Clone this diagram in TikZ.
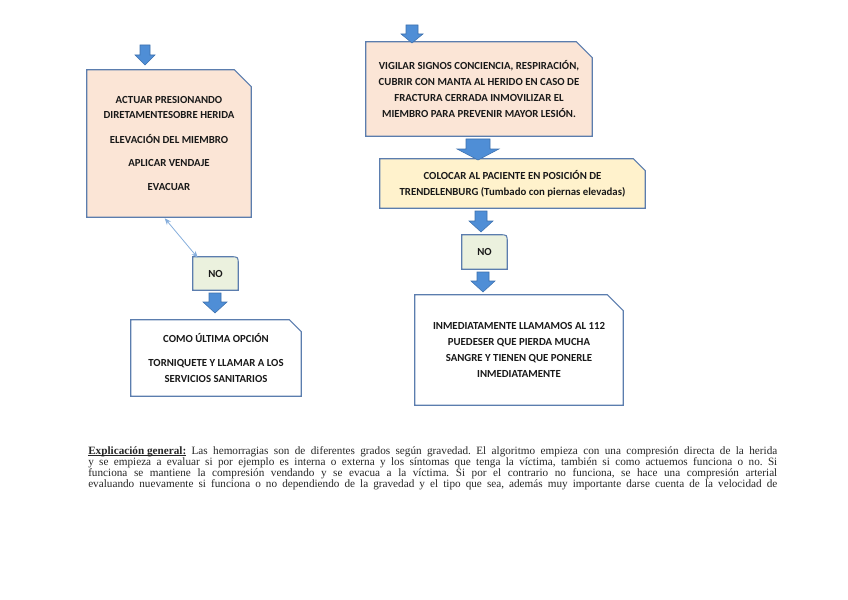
\documentclass[tikz,border=0pt]{standalone}
\usepackage{fontspec}
\setmainfont{Liberation Serif}
\newfontfamily\boxfont{Carlito}
\usetikzlibrary{backgrounds,calc,arrows.meta}
\definecolor{peach}{HTML}{FBE5D6}
\definecolor{paleyellow}{HTML}{FFF2CC}
\definecolor{palegreen}{HTML}{EBF1DE}
\definecolor{boxedge}{HTML}{5B7DAE}
\definecolor{arrfill}{HTML}{4F8ED6}
\definecolor{arredge}{HTML}{3D70AD}
\definecolor{thinblue}{HTML}{86AEDC}
\newcommand\snipbox[3]{%
  \draw[boxline,fill=#2] (#1.south west) -- (#1.north west) -- ($(#1.north east)+(-#3,0)$) -- ($(#1.north east)+(0,#3)$) -- (#1.south east) -- cycle;}
\newcommand\roundbox[2]{%
  \draw[boxline,fill=#2] (#1.south west) -- (#1.north west) -- ($(#1.north east)+(-8,0)$) .. controls (#1.north east) .. ($(#1.north east)+(0,8)$) -- (#1.south east) -- cycle;}
\newcommand\blockarr[6]{%
  \filldraw[arrowstyle] (#1-#4,#2) -- (#1+#4,#2) -- (#1+#4,#6) -- (#1+#5,#6) -- (#1,#3) -- (#1-#5,#6) -- (#1-#4,#6) -- cycle;}
\newcommand\myul[1]{\setbox0\hbox{#1}\rlap{\rule[-0.9pt]{\wd0}{0.5pt}}\box0\relax}
\tikzset{
  boxline/.style={draw=boxedge, line width=0.8pt},
  boxtext/.style={inner sep=0pt, align=center, font=\boxfont\bfseries\fontsize{8.1}{12}\selectfont, text=black!90},
  arrowstyle/.style={fill=arrfill, draw=arredge, line width=0.4pt},
}
\begin{document}
\begin{tikzpicture}[x=0.75pt,y=-0.75pt]
\useasboundingbox (0,0) rectangle (848,599);

% nodes (boxes)
\node[boxtext, minimum width=123pt, minimum height=110.25pt] (b1) at (169,143.5)
  {ACTUAR PRESIONANDO\\[-0.6pt] DIRETAMENTESOBRE HERIDA\\[6.5pt] ELEVACIÓN DEL MIEMBRO\\[5pt] APLICAR VENDAJE\\[6pt] EVACUAR};
\node[boxtext, minimum width=33.75pt, minimum height=24.75pt] (no1) at (215.5,273.5) {NO};
\node[boxtext, minimum width=127.5pt, minimum height=57pt] (b2) at (216,358)
  {COMO ÚLTIMA OPCIÓN\\[6pt] TORNIQUETE Y LLAMAR A LOS\\ SERVICIOS SANITARIOS};
\node[boxtext, minimum width=169.5pt, minimum height=70.5pt] (b3) at (479,89)
  {VIGILAR SIGNOS CONCIENCIA, RESPIRACIÓN,\\ CUBRIR CON MANTA AL HERIDO EN CASO DE\\ FRACTURA CERRADA INMOVILIZAR EL\\ MIEMBRO PARA PREVENIR MAYOR LESIÓN.};
\node[boxtext, minimum width=198.75pt, minimum height=36.75pt] (b4) at (512.5,183.5)
  {COLOCAR AL PACIENTE EN POSICIÓN DE\\ TRENDELENBURG (Tumbado con piernas elevadas)};
\node[boxtext, minimum width=33.75pt, minimum height=25.5pt] (no2) at (484.5,252) {NO};
\node[boxtext, minimum width=156pt, minimum height=82.5pt] (b5) at (519,350)
  {INMEDIATAMENTE LLAMAMOS AL 112\\ PUEDESER QUE PIERDA MUCHA\\ SANGRE Y TIENEN QUE PONERLE\\ INMEDIATAMENTE};

\begin{scope}[on background layer]
  \snipbox{b1}{peach}{17}
  \roundbox{no1}{palegreen}
  \snipbox{b2}{white}{12}
  \snipbox{b3}{peach}{16}
  \snipbox{b4}{paleyellow}{12}
  \roundbox{no2}{palegreen}
  \snipbox{b5}{white}{16}
\end{scope}

% block arrows
\blockarr{145}{45}{65}{5}{10}{55}
\blockarr{215}{293}{313}{6}{12}{302}
\blockarr{412}{25}{43}{6}{11}{34}
\blockarr{478}{139}{160}{12}{21}{149}
\blockarr{481}{211}{232}{6}{12}{221}
\blockarr{483}{272}{292}{6}{12}{281}

% thin connector
\draw[thinblue, line width=0.6pt, {Stealth[length=5pt,width=4pt]}-{Stealth[length=5pt,width=4pt]}]
  ($(b1.south west)+(78,1)$) -- ($(no1.north west)+(5,1)$);

% explanation paragraph
\node[anchor=north west, inner sep=0pt, text width=516.75pt, align=justify,
      font=\fontsize{8.4}{8.3}\selectfont, text=black!85] (expl) at (88,446)
  {\frenchspacing\parfillskip=0pt\relax\tolerance=10000\hyphenpenalty=10000
   \myul{\textbf{Explicación general:}} Las hemorragias son de diferentes grados según gravedad. El algoritmo empieza con una compresión directa de la herida\linebreak
   y se empieza a evaluar si por ejemplo es interna o externa y los síntomas que tenga la víctima, también si como actuemos funciona o no. Si\linebreak
   funciona se mantiene la compresión vendando y se evacua a la víctima. Si por el contrario no funciona, se hace una compresión arterial\linebreak
   evaluando nuevamente si funciona o no dependiendo de la gravedad y el tipo que sea, además muy importante darse cuenta de la velocidad de\par};
\end{tikzpicture}
\end{document}
